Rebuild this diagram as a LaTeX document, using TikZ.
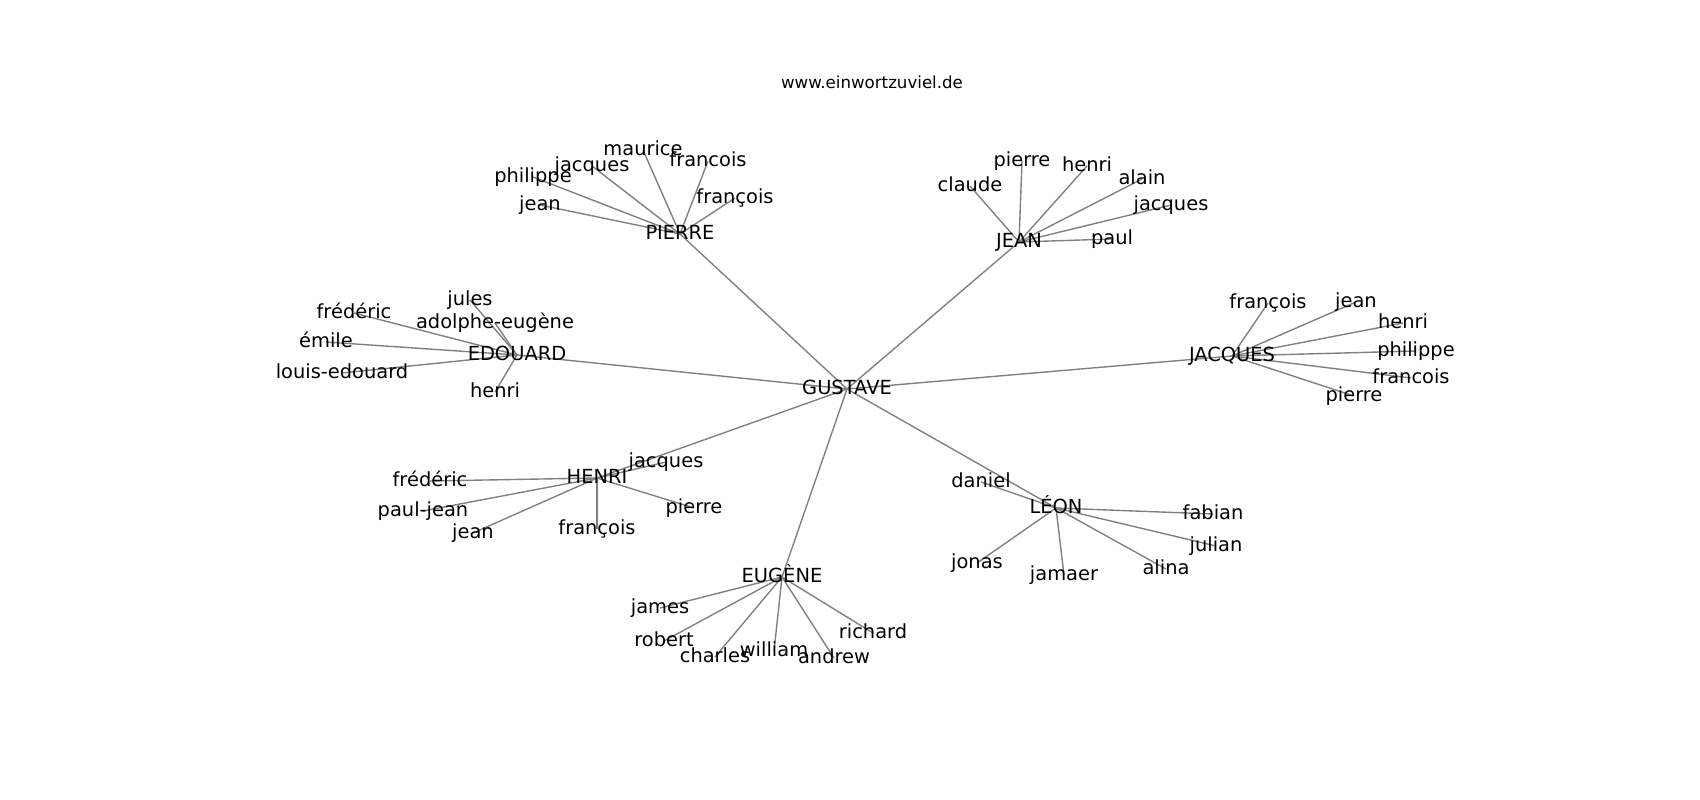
\documentclass[tikz,border=0pt]{standalone}
\usepackage{fontspec}
\setmainfont{DejaVu Sans}
\usetikzlibrary{backgrounds}
\begin{document}
\begin{tikzpicture}[x=1bp,y=-1bp,
  lbl/.style={inner sep=0pt, anchor=center, text height=14.8bp, text depth=4.7bp,
    font=\fontsize{19.5pt}{23pt}\selectfont, text=black},
  edge/.style={draw=gray, line width=1.39bp}]
\useasboundingbox (0,0) rectangle (1700,800);
\node[anchor=base, inner sep=0pt, font=\fontsize{16.7pt}{20pt}\selectfont] (title) at (872,88) {www.einwortzuviel.de};
% hubs
\node[lbl] (G) at (847,389) {GUSTAVE};
\node[lbl] (P) at (680,234) {PIERRE};
\node[lbl] (J) at (1019,242) {JEAN};
\node[lbl] (E) at (517,355) {EDOUARD};
\node[lbl] (JA) at (1232,356) {JACQUES};
\node[lbl] (H) at (597,478) {HENRI};
\node[lbl] (L) at (1056,508) {LÉON};
\node[lbl] (EU) at (782,577) {EUGÈNE};
% PIERRE leaves
\node[lbl] (P1) at (643,150) {maurice};
\node[lbl] (P2) at (708,161) {francois};
\node[lbl] (P3) at (592,166) {jacques};
\node[lbl] (P4) at (533,177) {philippe};
\node[lbl] (P5) at (735,198) {françois};
\node[lbl] (P6) at (540,205) {jean};
% JEAN leaves
\node[lbl] (J1) at (970,186) {claude};
\node[lbl] (J2) at (1022,161) {pierre};
\node[lbl] (J3) at (1087,166) {henri};
\node[lbl] (J4) at (1142,179) {alain};
\node[lbl] (J5) at (1171,205) {jacques};
\node[lbl] (J6) at (1112,239) {paul};
% EDOUARD leaves
\node[lbl] (E1) at (470,300) {jules};
\node[lbl] (E2) at (495,323) {adolphe-eugène};
\node[lbl] (E3) at (495,392) {henri};
\node[lbl] (E4) at (354,313) {frédéric};
\node[lbl] (E5) at (326,342) {émile};
\node[lbl] (E6) at (342,373) {louis-edouard};
% JACQUES leaves
\node[lbl] (JA1) at (1268,303) {françois};
\node[lbl] (JA2) at (1356,302) {jean};
\node[lbl] (JA3) at (1403,323) {henri};
\node[lbl] (JA4) at (1416,351) {philippe};
\node[lbl] (JA5) at (1411,378) {francois};
\node[lbl] (JA6) at (1354,396) {pierre};
% HENRI leaves
\node[lbl] (H1) at (666,462) {jacques};
\node[lbl] (H2) at (430,481) {frédéric};
\node[lbl] (H3) at (423,511) {paul-jean};
\node[lbl] (H4) at (473,533) {jean};
\node[lbl] (H5) at (597,529) {françois};
\node[lbl] (H6) at (694,508) {pierre};
% LEON leaves
\node[lbl] (L1) at (981,482) {daniel};
\node[lbl] (L2) at (1213,514) {fabian};
\node[lbl] (L3) at (1216,546) {julian};
\node[lbl] (L4) at (1166,569) {alina};
\node[lbl] (L5) at (1064,575) {jamaer};
\node[lbl] (L6) at (977,563) {jonas};
% EUGENE leaves
\node[lbl] (EU1) at (660,608) {james};
\node[lbl] (EU2) at (664,641) {robert};
\node[lbl] (EU3) at (715,657) {charles};
\node[lbl] (EU4) at (774,651) {william};
\node[lbl] (EU5) at (834,658) {andrew};
\node[lbl] (EU6) at (873,633) {richard};
\begin{scope}[on background layer]
\foreach \a/\b in {G/P,G/J,G/E,G/JA,G/H,G/L,G/EU,
  P/P1,P/P2,P/P3,P/P4,P/P5,P/P6,
  J/J1,J/J2,J/J3,J/J4,J/J5,J/J6,
  E/E1,E/E2,E/E3,E/E4,E/E5,E/E6,
  JA/JA1,JA/JA2,JA/JA3,JA/JA4,JA/JA5,JA/JA6,
  H/H1,H/H2,H/H3,H/H4,H/H5,H/H6,
  L/L1,L/L2,L/L3,L/L4,L/L5,L/L6,
  EU/EU1,EU/EU2,EU/EU3,EU/EU4,EU/EU5,EU/EU6}
  \draw[edge] (\a.center) -- (\b.center);
\end{scope}
\end{tikzpicture}
\end{document}
